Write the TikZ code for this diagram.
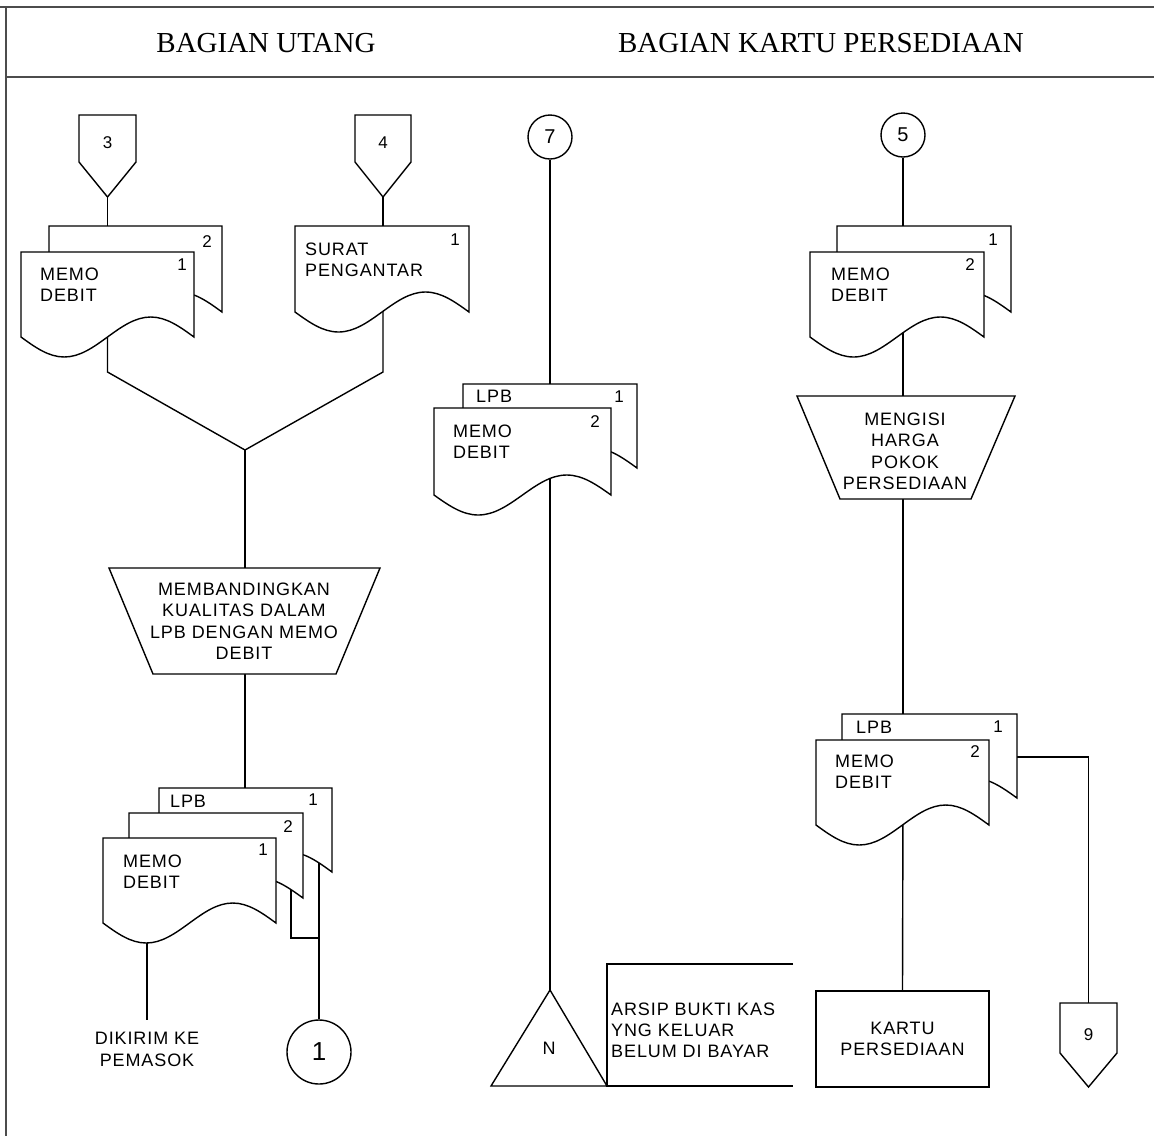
\documentclass[tikz,border=0pt]{standalone}
\usepackage{fontspec}
\setmainfont{Liberation Sans}[LetterSpace=5]
\newfontfamily\titlefont{Liberation Serif}
\newcommand{\mydoc}[4]{\draw[shp] (#1,#2) -- ({#1+#3},#2) -- ({#1+#3},{#2+#4}) sin ({#1+0.75*#3},{#2+#4-20}) cos ({#1+0.5*#3},{#2+#4}) sin ({#1+0.25*#3},{#2+#4+20}) cos (#1,{#2+#4}) -- cycle;}
\begin{document}
\begin{tikzpicture}[x=1pt,y=-1pt,line join=miter,
  lbl/.style={inner sep=0pt,font=\fontsize{18}{21}\selectfont,align=left,anchor=north west},
  ctr/.style={inner sep=0pt,font=\fontsize{18}{21.5}\selectfont,align=center},
  num/.style={inner sep=0pt,font=\fontsize{17}{17}\selectfont},
  shp/.style={draw=black,fill=white,line width=1.4pt},
  ln/.style={draw=black,line width=1.4pt},
  frm/.style={draw=black!70,line width=2.4pt},
  ttl/.style={inner sep=0pt,font=\titlefont\fontsize{29}{29}\selectfont},
  circ/.style={circle,draw=black,fill=white,line width=1.4pt,inner sep=0pt}]
\useasboundingbox (0,0) rectangle (1154,1136);
% frame
\draw[frm] (0,7) -- (1154,7);
\draw[frm] (6,6) -- (6,1136);
\draw[frm] (6,77) -- (1154,77);
\node[ttl] (t1) at (266,43) {BAGIAN UTANG};
\node[ttl] (t2) at (821,43) {BAGIAN KARTU PERSEDIAAN};

% ---------- coordinates ----------
\coordinate (c3tip) at (107.5,197);
\coordinate (c4tip) at (383,197);
\coordinate (md1top) at (107.5,226);
\coordinate (sptop) at (383,226);
\coordinate (md1bot) at (107.5,330);
\coordinate (spbot) at (383,305);
\coordinate (k1) at (107.5,372);
\coordinate (k2) at (383,372);
\coordinate (merge) at (245,450);
\coordinate (trapLtop) at (245,568);
\coordinate (trapLbot) at (245,674);
\coordinate (bl3top) at (245,788);
\coordinate (blfront) at (147,930);
\coordinate (dikirim) at (147,1020);
\coordinate (blmid) at (291,870);
\coordinate (blmidk) at (291,938);
\coordinate (blback) at (319,840);
\coordinate (blbackk) at (319,938);
\coordinate (mlpbtop) at (550,384);
\coordinate (mmemo) at (550,460);
\coordinate (triN) at (550,990);
\coordinate (rdoctop) at (903,226);
\coordinate (rdocbot) at (903,320);
\coordinate (trapRtop) at (903,396);
\coordinate (trapRbot) at (903,499);
\coordinate (rlpbtop) at (903,714);
\coordinate (rmemo) at (903,800);
\coordinate (rlpbside) at (1017,757);
\coordinate (rk) at (1088.5,757);
\coordinate (c9top) at (1088.5,1003);

\node[circ,minimum size=64] (c1) at (319,1052) {\fontsize{26}{26}\selectfont 1};
\node[circ,minimum size=44] (c7) at (550,137) {\fontsize{20}{20}\selectfont 7};
\node[circ,minimum size=44] (c5) at (903,135) {\fontsize{20}{20}\selectfont 5};
\node[draw=black,line width=1.4pt,minimum width=173,minimum height=96,inner sep=0pt] (kartu) at (902.5,1039) {};

% ---------- connectors ----------
\draw[ln] (c3tip) -- (md1top);
\draw[ln] (c4tip) -- (sptop);
\draw[ln] (md1bot) -- (k1) -- (merge);
\draw[ln] (spbot) -- (k2) -- (merge);
\draw[ln] (merge) -- (trapLtop);
\draw[ln] (trapLbot) -- (bl3top);
\draw[ln] (blfront) -- (dikirim);
\draw[ln] (blmid) -- (blmidk) -- (blbackk);
\draw[ln] (blback) -- (c1.north);
\draw[ln] (c7.south) -- (mlpbtop);
\draw[ln] (mmemo) -- (triN);
\draw[ln] (c5.south) -- (rdoctop);
\draw[ln] (rdocbot) -- (trapRtop);
\draw[ln] (trapRbot) -- (rlpbtop);
\draw[ln] (rmemo) -- (kartu.north);
\draw[ln] (rlpbside) -- (rk) -- (c9top);

% ---------- shapes ----------
% off-page connectors
\draw[shp] (79,115) -- (136,115) -- (136,162) -- (c3tip) -- (79,162) -- cycle;
\draw[shp] (355,115) -- (411,115) -- (411,162) -- (c4tip) -- (355,162) -- cycle;
\draw[shp] (1060,1003) -- (1117,1003) -- (1117,1053) -- (1088.5,1087) -- (1060,1053) -- cycle;
% documents top-left
\mydoc{49}{226}{173}{86}
\mydoc{21}{252}{173}{85}
\mydoc{295}{226}{174}{86}
% trapezoid left
\draw[shp] (109,568) -- (380,568) -- (336,674) -- (153,674) -- cycle;
% documents bottom-left
\mydoc{159}{788}{173}{84}
\mydoc{129}{813}{174}{85}
\mydoc{103}{838}{173}{85}
% middle documents
\mydoc{463}{384}{174}{84}
\mydoc{434}{408}{177}{87}
% triangle and annotation
\draw[shp] (triN) -- (607,1086) -- (491,1086) -- cycle;
\draw[ln] (793,964) -- (607,964) -- (607,1086) -- (793,1086);
% right documents
\mydoc{837}{226}{174}{86}
\mydoc{810}{252}{174}{85}
\draw[shp] (797,396) -- (1015,396) -- (971,499) -- (840,499) -- cycle;
\mydoc{842}{714}{175}{84}
\mydoc{816}{740}{173}{85}

% ---------- texts ----------
\node[num] (n3) at (107.5,143) {3};
\node[num] (n4) at (383,143) {4};
\node[num] (n9) at (1088.5,1035) {9};
\node[num] (d1a) at (207,242) {2};
\node[num] (d1b) at (182,265) {1};
\node[lbl] (memo1) at (40,268) {MEMO\\DEBIT};
\node[num] (sp1) at (455,240) {1};
\node[lbl] (surat) at (305,243) {SURAT\\PENGANTAR};
\node[ctr] (banding) at (244,621) {MEMBANDINGKAN\\KUALITAS DALAM\\LPB DENGAN MEMO\\DEBIT};
\node[lbl] (lpb1) at (170,795) {LPB};
\node[num] (bl1) at (313,800) {1};
\node[num] (bl2) at (288,827) {2};
\node[num] (bl3) at (263,850) {1};
\node[lbl] (memo2) at (123,855) {MEMO\\DEBIT};
\node[ctr] (kirim) at (147,1049.5) {DIKIRIM KE\\PEMASOK};
\node[lbl] (lpb2) at (476,390) {LPB};
\node[num] (m1) at (619,397) {1};
\node[num] (m2) at (595,422) {2};
\node[lbl] (memo3) at (453,425) {MEMO\\DEBIT};
\node[ctr] (nn) at (549,1048) {N};
\node[lbl] (arsip) at (611,1003) {ARSIP BUKTI KAS\\YNG KELUAR\\BELUM DI BAYAR};
\node[num] (r1) at (993,240) {1};
\node[num] (r2) at (970,265) {2};
\node[lbl] (memo4) at (831,268) {MEMO\\DEBIT};
\node[ctr] (harga) at (905,451.5) {MENGISI\\HARGA\\POKOK\\PERSEDIAAN};
\node[lbl] (lpb3) at (856,721) {LPB};
\node[num] (r3) at (998,727) {1};
\node[num] (r4) at (975,752) {2};
\node[lbl] (memo5) at (835,755) {MEMO\\DEBIT};
\node[ctr] (kartutxt) at (kartu.center) {KARTU\\PERSEDIAAN};
\end{tikzpicture}
\end{document}
